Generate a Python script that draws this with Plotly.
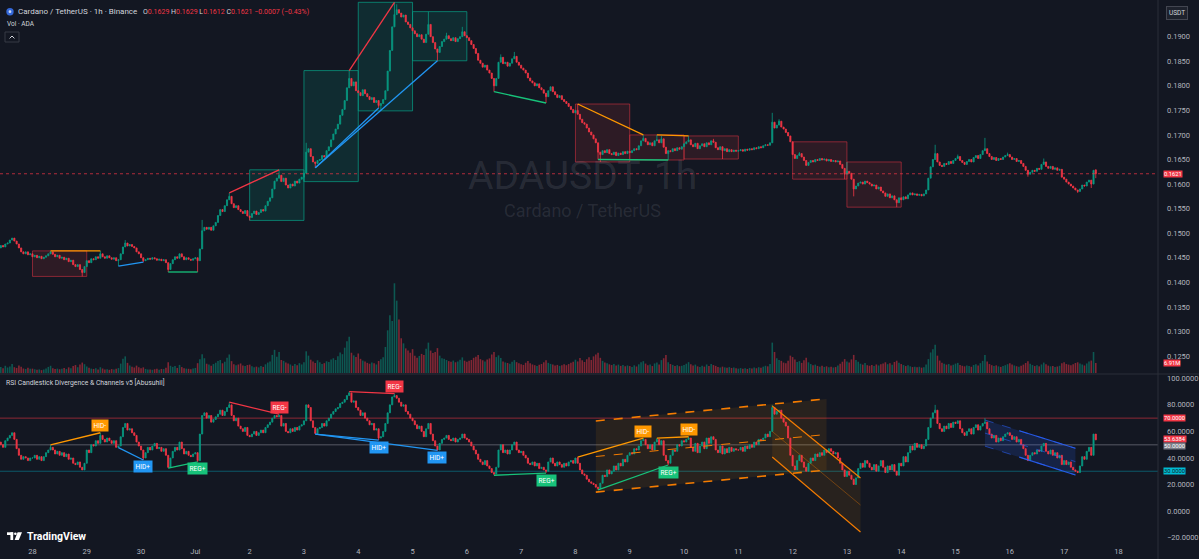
import plotly.graph_objects as go

# ---------------- data ----------------
day_names = ["Jun 27", "Jun 28", "Jun 29", "Jun 30", "Jul 1", "Jul 2", "Jul 3", "Jul 4", "Jul 5", "Jul 6",
             "Jul 7", "Jul 8", "Jul 9", "Jul 10", "Jul 11", "Jul 12", "Jul 13", "Jul 14", "Jul 15", "Jul 16", "Jul 17"]
tick_labels = ["28", "29", "30", "Jul", "2", "3", "4", "5", "6", "7", "8", "9", "10",
               "11", "12", "13", "14", "15", "16", "17", "18"]

# hourly closes (ADAUSDT), first candle Jun 27 10:00
close_jun27 = [0.1475, 0.1472, 0.1478, 0.1480, 0.1486, 0.1490, 0.1484, 0.1478, 0.1470, 0.1462, 0.1458, 0.1462, 0.1456, 0.1458]
close_jun28 = [0.1452, 0.1455, 0.1450, 0.1453, 0.1448, 0.1451, 0.1454, 0.1458, 0.1462, 0.1457, 0.1452, 0.1455,
               0.1449, 0.1451, 0.1446, 0.1449, 0.1442, 0.1445, 0.1436, 0.1432, 0.1436, 0.1426, 0.1420, 0.1432]
close_jun29 = [0.1444, 0.1440, 0.1448, 0.1446, 0.1452, 0.1449, 0.1458, 0.1452, 0.1449, 0.1454, 0.1450, 0.1447,
               0.1450, 0.1444, 0.1446, 0.1458, 0.1472, 0.1480, 0.1474, 0.1477, 0.1473, 0.1470, 0.1462, 0.1458]
close_jun30 = [0.1450, 0.1444, 0.1446, 0.1449, 0.1447, 0.1450, 0.1448, 0.1445, 0.1447, 0.1444, 0.1446, 0.1440,
               0.1426, 0.1438, 0.1446, 0.1452, 0.1449, 0.1458, 0.1452, 0.1446, 0.1450, 0.1447, 0.1445, 0.1448]
close_jul01 = [0.1450, 0.1444, 0.1468, 0.1505, 0.1512, 0.1508, 0.1512, 0.1506, 0.1515, 0.1522, 0.1536, 0.1548,
               0.1544, 0.1556, 0.1568, 0.1575, 0.1560, 0.1552, 0.1556, 0.1548, 0.1544, 0.1540, 0.1546, 0.1535]
close_jul02 = [0.1532, 0.1540, 0.1545, 0.1538, 0.1542, 0.1548, 0.1545, 0.1556, 0.1565, 0.1572, 0.1590, 0.1606,
               0.1612, 0.1618, 0.1605, 0.1612, 0.1598, 0.1592, 0.1600, 0.1596, 0.1606, 0.1602, 0.1610, 0.1614]
close_jul03 = [0.1622, 0.1665, 0.1672, 0.1656, 0.1645, 0.1642, 0.1648, 0.1650, 0.1658, 0.1655, 0.1668, 0.1676,
               0.1690, 0.1702, 0.1712, 0.1722, 0.1740, 0.1752, 0.1770, 0.1796, 0.1815, 0.1800, 0.1808, 0.1790]
close_jul04 = [0.1786, 0.1780, 0.1792, 0.1784, 0.1778, 0.1772, 0.1776, 0.1766, 0.1770, 0.1760, 0.1764, 0.1772,
               0.1790, 0.1830, 0.1872, 0.1920, 0.1945, 0.1955, 0.1948, 0.1940, 0.1944, 0.1930, 0.1925, 0.1918]
close_jul05 = [0.1912, 0.1906, 0.1900, 0.1904, 0.1895, 0.1888, 0.1905, 0.1925, 0.1900, 0.1888, 0.1875, 0.1868,
               0.1880, 0.1890, 0.1895, 0.1902, 0.1896, 0.1892, 0.1898, 0.1890, 0.1896, 0.1900, 0.1910, 0.1902]
close_jul06 = [0.1898, 0.1892, 0.1884, 0.1876, 0.1866, 0.1852, 0.1846, 0.1838, 0.1842, 0.1832, 0.1826, 0.1815,
               0.1800, 0.1815, 0.1848, 0.1858, 0.1845, 0.1848, 0.1840, 0.1846, 0.1855, 0.1860, 0.1848, 0.1842]
close_jul07 = [0.1836, 0.1832, 0.1826, 0.1816, 0.1810, 0.1806, 0.1800, 0.1804, 0.1796, 0.1792, 0.1785, 0.1778,
               0.1790, 0.1798, 0.1788, 0.1782, 0.1776, 0.1780, 0.1772, 0.1768, 0.1764, 0.1758, 0.1752, 0.1745]
close_jul08 = [0.1750, 0.1742, 0.1732, 0.1725, 0.1722, 0.1714, 0.1706, 0.1700, 0.1692, 0.1684, 0.1665, 0.1660,
               0.1668, 0.1664, 0.1670, 0.1662, 0.1660, 0.1665, 0.1658, 0.1663, 0.1660, 0.1666, 0.1662, 0.1667]
close_jul09 = [0.1664, 0.1668, 0.1672, 0.1670, 0.1678, 0.1688, 0.1693, 0.1686, 0.1680, 0.1684, 0.1678, 0.1688,
               0.1690, 0.1684, 0.1692, 0.1675, 0.1662, 0.1668, 0.1666, 0.1672, 0.1668, 0.1674, 0.1671, 0.1676]
close_jul10 = [0.1682, 0.1686, 0.1690, 0.1680, 0.1676, 0.1683, 0.1672, 0.1678, 0.1682, 0.1676, 0.1684, 0.1680,
               0.1688, 0.1685, 0.1674, 0.1670, 0.1676, 0.1668, 0.1672, 0.1666, 0.1670, 0.1666, 0.1669, 0.1667]
close_jul11 = [0.1668, 0.1670, 0.1667, 0.1671, 0.1669, 0.1672, 0.1670, 0.1674, 0.1672, 0.1676, 0.1674, 0.1678,
               0.1680, 0.1679, 0.1684, 0.1726, 0.1714, 0.1720, 0.1728, 0.1716, 0.1712, 0.1705, 0.1698, 0.1686]
close_jul12 = [0.1660, 0.1652, 0.1658, 0.1662, 0.1655, 0.1648, 0.1638, 0.1644, 0.1648, 0.1645, 0.1650, 0.1648,
               0.1652, 0.1649, 0.1651, 0.1647, 0.1650, 0.1646, 0.1648, 0.1645, 0.1647, 0.1640, 0.1632, 0.1620]
close_jul13 = [0.1626, 0.1622, 0.1610, 0.1590, 0.1596, 0.1602, 0.1604, 0.1600, 0.1606, 0.1603, 0.1600, 0.1596,
               0.1598, 0.1590, 0.1594, 0.1586, 0.1582, 0.1575, 0.1580, 0.1572, 0.1576, 0.1568, 0.1562, 0.1572]
close_jul14 = [0.1568, 0.1574, 0.1570, 0.1578, 0.1582, 0.1578, 0.1580, 0.1577, 0.1579, 0.1576, 0.1580, 0.1588,
               0.1612, 0.1635, 0.1650, 0.1662, 0.1645, 0.1638, 0.1636, 0.1642, 0.1640, 0.1646, 0.1642, 0.1648]
close_jul15 = [0.1652, 0.1656, 0.1648, 0.1644, 0.1640, 0.1646, 0.1650, 0.1645, 0.1654, 0.1658, 0.1652, 0.1660,
               0.1668, 0.1672, 0.1662, 0.1656, 0.1650, 0.1654, 0.1648, 0.1652, 0.1650, 0.1655, 0.1658, 0.1660]
close_jul16 = [0.1655, 0.1650, 0.1652, 0.1646, 0.1648, 0.1642, 0.1636, 0.1628, 0.1620, 0.1624, 0.1628, 0.1626,
               0.1632, 0.1630, 0.1640, 0.1645, 0.1636, 0.1632, 0.1636, 0.1630, 0.1633, 0.1628, 0.1630, 0.1614]
close_jul17 = [0.1610, 0.1604, 0.1600, 0.1596, 0.1592, 0.1588, 0.1585, 0.1590, 0.1598, 0.1596, 0.1604, 0.1608,
               0.1600, 0.1628, 0.1621]
first_open = 0.1470

# wick extremes (candle index -> price)
price_high_fix = {22: 0.1464, 44: 0.1464, 55: 0.1486, 89: 0.1527, 101: 0.1582, 123: 0.1629, 135: 0.1684,
                  154: 0.1831, 174: 0.1970, 175: 0.1966, 189: 0.1951, 197: 0.1908, 204: 0.1920, 221: 0.1864,
                  227: 0.1869, 255: 0.1763, 284: 0.1700, 290: 0.1700, 292: 0.1698, 304: 0.1698, 315: 0.1692,
                  341: 0.1745, 344: 0.1732, 353: 0.1665, 374: 0.1645, 413: 0.1680, 423: 0.1660, 435: 0.1694,
                  445: 0.1664, 461: 0.1652, 484: 0.1629}
price_low_fix = {36: 0.1412, 52: 0.1433, 63: 0.1441, 74: 0.1421, 87: 0.1421, 110: 0.1526, 134: 0.1605,
                 139: 0.1633, 167: 0.1755, 168: 0.1749, 193: 0.1851, 218: 0.1788, 241: 0.1765, 264: 0.1650,
                 265: 0.1645, 295: 0.1649, 319: 0.1651, 373: 0.1610, 377: 0.1575, 396: 0.1553, 454: 0.1615,
                 476: 0.1582, 482: 0.1592, 484: 0.1612}
price_open_fix = {484: 0.1629}

# hourly volume (millions ADA)
vol_jun27 = [4.1, 3.2, 5.0, 3.8, 4.5, 6.2, 4.0, 3.5, 5.2, 4.4, 3.1, 2.8, 3.6, 2.9]
vol_jun28 = [3.0, 2.6, 2.2, 2.5, 2.0, 2.4, 3.1, 4.2, 5.0, 3.3, 2.8, 3.0, 2.6, 2.9, 3.4, 2.7, 3.9, 3.2, 4.8, 5.5, 4.0, 5.8, 7.2, 6.1]
vol_jun29 = [4.5, 3.6, 3.0, 2.8, 3.2, 2.5, 4.0, 3.1, 2.4, 2.6, 2.2, 2.7, 2.5, 3.0, 3.4, 6.5, 9.8, 11.5, 7.0, 5.2, 4.4, 3.8, 5.1, 4.0]
vol_jun30 = [3.3, 3.9, 2.8, 2.5, 2.4, 2.2, 2.6, 2.9, 2.3, 2.8, 2.7, 3.6, 7.5, 5.0, 4.2, 4.8, 3.5, 5.6, 4.1, 3.2, 3.0, 2.9, 2.6, 3.1]
vol_jul01 = [3.5, 6.8, 9.5, 13.0, 10.2, 6.4, 5.8, 5.0, 6.2, 7.1, 8.3, 9.0, 6.7, 7.8, 10.5, 12.8, 8.2, 6.0, 5.4, 5.9, 6.6, 5.1, 4.8, 5.5]
vol_jul02 = [5.8, 4.6, 4.0, 4.4, 3.9, 4.8, 4.2, 6.0, 7.2, 8.0, 12.5, 16.0, 11.2, 14.5, 9.0, 8.4, 7.2, 6.5, 5.9, 5.0, 6.3, 5.4, 6.8, 5.9]
vol_jul03 = [7.5, 15.0, 12.0, 9.2, 8.0, 6.9, 8.8, 7.4, 6.2, 6.8, 8.1, 7.6, 9.4, 10.2, 9.0, 11.5, 14.2, 13.0, 17.5, 22.0, 25.0, 14.0, 12.2, 11.0]
vol_jul04 = [13.5, 9.8, 8.6, 7.9, 7.0, 6.4, 7.2, 6.8, 5.9, 8.3, 9.5, 10.8, 18.0, 29.5, 40.0, 36.0, 62.0, 50.0, 37.0, 24.0, 20.5, 17.0, 15.5, 14.0]
vol_jul05 = [16.5, 12.0, 10.5, 11.8, 13.2, 12.5, 16.8, 21.0, 15.5, 13.8, 14.6, 17.2, 12.0, 10.2, 9.8, 9.0, 8.2, 7.8, 8.6, 7.4, 8.0, 9.2, 10.8, 8.5]
vol_jul06 = [7.8, 8.4, 9.0, 10.5, 11.2, 12.5, 9.6, 8.8, 7.9, 9.3, 10.1, 12.8, 14.5, 11.0, 12.2, 10.4, 8.0, 7.3, 6.9, 6.4, 7.8, 8.9, 7.5, 6.8]
vol_jul07 = [6.0, 5.6, 7.1, 8.3, 6.7, 5.9, 5.4, 4.8, 5.7, 6.2, 7.4, 8.8, 7.0, 6.3, 5.8, 5.1, 5.6, 4.9, 5.3, 6.0, 5.4, 6.2, 7.0, 7.8]
vol_jul08 = [9.2, 8.0, 10.4, 8.8, 7.6, 9.5, 10.8, 9.0, 11.5, 12.8, 14.0, 10.5, 8.4, 7.2, 6.8, 6.0, 5.5, 6.3, 5.1, 5.8, 4.9, 5.5, 4.6, 5.2]
vol_jul09 = [4.8, 4.2, 5.3, 4.5, 6.0, 7.4, 8.2, 6.5, 5.4, 5.9, 4.8, 6.6, 7.2, 5.8, 8.9, 10.2, 12.4, 7.5, 6.2, 5.6, 4.9, 5.4, 4.7, 5.0]
vol_jul10 = [5.6, 6.4, 7.5, 6.0, 5.2, 5.8, 4.6, 4.2, 5.0, 4.4, 5.9, 4.8, 6.3, 5.5, 4.9, 4.2, 3.8, 4.4, 3.9, 3.6, 4.1, 3.5, 3.8, 3.3]
vol_jul11 = [3.0, 3.4, 2.9, 3.2, 2.8, 3.5, 3.1, 3.8, 3.3, 4.0, 3.6, 4.4, 5.0, 4.6, 6.2, 21.0, 14.5, 10.2, 9.0, 8.4, 7.2, 6.8, 8.5, 12.0]
vol_jul12 = [11.0, 9.4, 7.6, 8.2, 7.0, 8.8, 10.5, 7.4, 6.2, 5.4, 5.8, 4.9, 4.4, 5.0, 4.2, 4.6, 3.9, 4.3, 3.8, 4.1, 5.2, 6.4, 7.8, 9.6]
vol_jul13 = [8.0, 7.2, 9.4, 12.5, 9.0, 7.8, 6.4, 5.8, 6.9, 5.4, 5.0, 5.6, 4.8, 5.9, 5.2, 6.0, 6.6, 7.4, 6.1, 6.8, 5.7, 7.6, 8.5, 7.0]
vol_jul14 = [6.2, 5.5, 4.8, 5.3, 4.6, 4.1, 4.4, 3.9, 4.3, 3.7, 4.0, 5.8, 9.6, 14.2, 16.5, 19.5, 12.0, 8.6, 7.0, 6.4, 5.8, 6.2, 5.2, 5.7]
vol_jul15 = [6.5, 7.0, 5.6, 5.0, 4.6, 5.2, 4.8, 4.3, 5.5, 6.0, 5.1, 6.8, 8.4, 12.5, 8.0, 6.2, 5.4, 4.9, 5.3, 4.6, 4.2, 4.8, 5.4, 6.1]
vol_jul16 = [6.8, 5.9, 5.2, 4.7, 4.4, 5.0, 5.8, 6.9, 8.2, 6.4, 5.5, 4.8, 5.3, 4.6, 5.9, 7.2, 6.0, 5.1, 4.6, 4.9, 4.2, 4.5, 5.0, 6.8]
vol_jul17 = [7.5, 6.2, 5.8, 5.4, 6.1, 6.9, 7.4, 6.5, 5.9, 5.2, 6.6, 7.9, 8.6, 14.5, 6.91]

# RSI (candlestick RSI closes)
rsi_jun27 = [50, 48, 53, 55, 57, 59, 54, 47, 42, 39, 41, 40, 38, 40]
rsi_jun28 = [40, 42, 39, 41, 38, 41, 44, 46, 48, 46, 43, 45, 42, 44, 41, 43, 39, 40, 36, 35, 37, 33, 31, 36]
rsi_jun29 = [46, 44, 50, 49, 53, 51, 57, 54, 52, 55, 53, 51, 53, 48, 49, 56, 63, 66, 61, 62, 59, 57, 52, 49]
rsi_jun30 = [46, 40, 44, 48, 46, 49, 51, 47, 48, 45, 47, 42, 33, 40, 45, 48, 46, 52, 47, 43, 45, 42, 41, 43]
rsi_jul01 = [44, 38, 58, 72, 74, 70, 72, 67, 69, 71, 73, 76, 72, 75, 78, 80, 72, 68, 70, 64, 62, 60, 63, 57]
rsi_jul02 = [56, 58, 60, 57, 59, 61, 59, 63, 65, 67, 70, 72, 71, 72, 64, 66, 60, 59, 62, 60, 63, 61, 64, 65]
rsi_jul03 = [68, 80, 78, 68, 63, 58.5, 62, 63, 66, 64, 68, 70, 73, 75, 77, 78, 81, 82, 84, 87, 89, 82, 83, 78]
rsi_jul04 = [76, 72, 74, 70, 68, 65, 66, 61, 62, 55, 56, 60, 66, 74, 80, 86, 87, 85, 82, 79, 80, 75, 73, 70]
rsi_jul05 = [68, 65, 62, 64, 60, 56, 62, 66, 58, 53, 49, 46, 51, 54, 55, 57, 54, 53, 55, 52, 54, 55, 58, 55]
rsi_jul06 = [54, 52, 49, 46, 43, 39, 37, 35, 38, 34, 32, 29, 28, 33, 46, 50, 44, 46, 43, 46, 50, 52, 46, 44]
rsi_jul07 = [45, 42, 40, 36, 35, 37, 34, 36, 32, 33, 31, 30, 37, 40, 36, 34, 37, 35, 33, 36, 34, 37, 38, 36]
rsi_jul08 = [40, 36, 31, 28, 27, 24, 22, 21, 20, 18, 17, 21, 27, 26, 31, 28, 30, 34, 31, 36, 34, 39, 37, 42]
rsi_jul09 = [44, 43, 47, 46, 49, 53, 54, 50, 47, 50, 46, 52, 54, 50, 53, 42, 38, 36, 42, 46, 45, 50, 49, 53]
rsi_jul10 = [52, 54, 55, 48, 45, 51, 44, 49, 52, 47, 55, 51, 56, 54, 46, 44, 49, 43, 47, 44, 48, 45, 47, 46]
rsi_jul11 = [46, 48, 45, 49, 47, 50, 48, 52, 50, 54, 53, 55, 58, 56, 60, 78, 73, 75, 76, 70, 67, 64, 55, 42]
rsi_jul12 = [34, 31, 38, 42, 37, 33, 30, 36, 40, 38, 43, 41, 44, 42, 46, 44, 47, 45, 43, 44, 40, 36, 31, 26]
rsi_jul13 = [30, 27, 24, 20, 25, 32, 36, 33, 38, 36, 33, 31, 35, 30, 34, 38, 33, 29, 34, 31, 35, 30, 27, 36]
rsi_jul14 = [34, 41, 37, 44, 49, 46, 51, 48, 50, 47, 49, 54, 63, 70, 74, 76, 66, 62, 60, 64, 62, 66, 63, 67]
rsi_jul15 = [66, 68, 62, 59, 57, 60, 62, 58, 63, 65, 61, 64, 66, 67, 62, 58, 55, 57, 52, 55, 53, 56, 58, 59]
rsi_jul16 = [57, 54, 56, 52, 54, 50, 47, 42, 38, 42, 44, 43, 46, 45, 49, 51, 45, 43, 46, 42, 44, 40, 42, 35]
rsi_jul17 = [38, 35, 37, 33, 31, 30, 29, 34, 41, 39, 45, 48, 42, 58, 53.6384]
rsi_first_open = 52
rsi_high_fix = {22: 49.8, 44: 59, 101: 82, 123: 73, 154: 90, 174: 88.5, 255: 40.7, 284: 55, 290: 55,
                304: 56, 341: 80, 413: 80, 435: 70}
rsi_low_fix = {52: 47.8, 63: 38.5, 74: 32.4, 87: 37, 139: 58, 167: 53.5, 193: 45.7, 218: 27, 241: 28.6,
               264: 16, 295: 34.7}

# daily range boxes
box_days = ["Jun 28", "Jul 2", "Jul 3", "Jul 4", "Jul 5", "Jul 8", "Jul 9", "Jul 10", "Jul 12", "Jul 13"]
box_kind = ["bear", "bull", "bull", "bull", "bull", "bear", "bear", "bear", "bear", "bear"]

# divergences: (start idx, end idx, pivot type, label)
div_start = [22, 52, 74, 101, 139, 139, 154, 218, 255, 264, 290]
div_end = [44, 63, 87, 123, 167, 193, 174, 241, 284, 295, 304]
div_pivot = ["high", "low", "low", "high", "low", "low", "high", "low", "high", "low", "high"]
div_label = ["HID-", "HID+", "REG+", "REG-", "HID+", "HID+", "REG-", "REG+", "HID-", "REG+", "HID-"]

# RSI channels: start/end idx, upper & lower line values at start/end
ch_i0 = [263, 341, 435]
ch_i1 = [365, 380, 475]
ch_top = [(67.9, 84.5), (79.2, 24.9), (68.6, 47.3)]
ch_bot = [(14.3, 30.9), (40.7, -15.8), (48.9, 27.2)]
ch_kind = ["asc", "desc", "blue"]

rsi_levels = [70, 50, 30]
price_ticks = [0.125, 0.130, 0.135, 0.140, 0.145, 0.150, 0.155, 0.160, 0.165, 0.170, 0.175, 0.180, 0.185, 0.190]
rsi_ticks = [100, 80, 60, 40, 20, 0, -20]

# ---------------- build series ----------------
closes_by_day = [close_jun27, close_jun28, close_jun29, close_jun30, close_jul01, close_jul02, close_jul03,
                 close_jul04, close_jul05, close_jul06, close_jul07, close_jul08, close_jul09, close_jul10,
                 close_jul11, close_jul12, close_jul13, close_jul14, close_jul15, close_jul16, close_jul17]
vol_by_day = [vol_jun27, vol_jun28, vol_jun29, vol_jun30, vol_jul01, vol_jul02, vol_jul03, vol_jul04, vol_jul05,
              vol_jul06, vol_jul07, vol_jul08, vol_jul09, vol_jul10, vol_jul11, vol_jul12, vol_jul13, vol_jul14,
              vol_jul15, vol_jul16, vol_jul17]
rsi_by_day = [rsi_jun27, rsi_jun28, rsi_jun29, rsi_jun30, rsi_jul01, rsi_jul02, rsi_jul03, rsi_jul04, rsi_jul05,
              rsi_jul06, rsi_jul07, rsi_jul08, rsi_jul09, rsi_jul10, rsi_jul11, rsi_jul12, rsi_jul13, rsi_jul14,
              rsi_jul15, rsi_jul16, rsi_jul17]
for a, b, c in zip(closes_by_day, vol_by_day, rsi_by_day):
    assert len(a) == len(b) == len(c), (len(a), len(b), len(c))

day_start = {}
closes, volume, rsi = [], [], []
for name, c, v, r in zip(day_names, closes_by_day, vol_by_day, rsi_by_day):
    day_start[name] = len(closes)
    closes += c
    volume += v
    rsi += r
N = len(closes)
idx = list(range(N))

opens = [first_open] + closes[:-1]
for k, v in price_open_fix.items():
    opens[k] = v
highs = [max(o, c) for o, c in zip(opens, closes)]
lows = [min(o, c) for o, c in zip(opens, closes)]
for k, v in price_high_fix.items():
    highs[k] = v
for k, v in price_low_fix.items():
    lows[k] = v

r_open = [rsi_first_open] + rsi[:-1]
r_high = [max(o, c) for o, c in zip(r_open, rsi)]
r_low = [min(o, c) for o, c in zip(r_open, rsi)]
for k, v in rsi_high_fix.items():
    r_high[k] = v
for k, v in rsi_low_fix.items():
    r_low[k] = v

# ---------------- style ----------------
W, H = 1199, 559
ML, MR, MT, MB = 0, 41, 0, 17
PW, PH = W - ML - MR, H - MT - MB
BG = "#131722"
UP, DN = "#089981", "#f23645"
TXT, AX = "#d1d4dc", "#b2b5be"
FONT = "Roboto"
ORANGE, BLUE, GREEN, RED = "#ff9800", "#2196f3", "#17c27a", "#f23645"
label_color = {"HID-": ORANGE, "HID+": BLUE, "REG+": GREEN, "REG-": RED}


def px(x):
    return x / PW


def py(y):
    return 1 - y / PH


price_dom = [py(373), 1]
rsi_dom = [0, py(375)]

fig = go.Figure()
vol_colors = ["rgba(8,153,129,0.5)" if c >= o else "rgba(242,54,69,0.5)" for o, c in zip(opens, closes)]
fig.add_trace(go.Bar(x=idx, y=volume, marker=dict(color=vol_colors, line=dict(width=0)),
                     xaxis="x", yaxis="y2", hoverinfo="skip", showlegend=False))
fig.add_trace(go.Candlestick(x=idx, open=opens, high=highs, low=lows, close=closes,
                             increasing=dict(line=dict(color=UP, width=0.8), fillcolor=UP),
                             decreasing=dict(line=dict(color=DN, width=0.8), fillcolor=DN),
                             whiskerwidth=0, xaxis="x", yaxis="y", hoverinfo="skip", showlegend=False))
fig.add_trace(go.Candlestick(x=idx, open=r_open, high=r_high, low=r_low, close=rsi,
                             increasing=dict(line=dict(color=UP, width=0.8), fillcolor=UP),
                             decreasing=dict(line=dict(color=DN, width=0.8), fillcolor=DN),
                             whiskerwidth=0, xaxis="x", yaxis="y3", hoverinfo="skip", showlegend=False))

shapes = []
annotations = []

# daily boxes
for name, kind in zip(box_days, box_kind):
    s = day_start[name]
    hi = max(highs[s:s + 24])
    lo = min(lows[s:s + 24])
    if kind == "bull":
        fc, lc = "rgba(8,153,129,0.16)", "rgba(8,153,129,0.75)"
    else:
        fc, lc = "rgba(242,54,69,0.12)", "rgba(242,54,69,0.5)"
    shapes.append(dict(type="rect", xref="x", yref="y", x0=s, x1=s + 24, y0=lo, y1=hi,
                       fillcolor=fc, line=dict(color=lc, width=1), layer="below"))

# divergence lines (price & RSI) + labels
for i0, i1, piv, lab in zip(div_start, div_end, div_pivot, div_label):
    col = label_color[lab]
    ph = highs if piv == "high" else lows
    rh = r_high if piv == "high" else r_low
    shapes.append(dict(type="line", xref="x", yref="y", x0=i0, x1=i1, y0=ph[i0], y1=ph[i1],
                       line=dict(color=col, width=1.3)))
    shapes.append(dict(type="line", xref="x", yref="y3", x0=i0, x1=i1, y0=rh[i0], y1=rh[i1],
                       line=dict(color=col, width=1.3)))
    annotations.append(dict(x=i1, y=rh[i1], xref="x", yref="y3", text=lab, showarrow=False,
                            font=dict(family=FONT, size=6.5, color="#ffffff"), bgcolor=col, borderpad=1.5,
                            yanchor="middle", yshift=7 if piv == "high" else -7))

# RSI channels
for i0, i1, top, bot, kind in zip(ch_i0, ch_i1, ch_top, ch_bot, ch_kind):
    mid = ((top[0] + bot[0]) / 2, (top[1] + bot[1]) / 2)
    if kind == "blue":
        fill, lc = "rgba(41,98,255,0.16)", "#2962ff"
    else:
        fill, lc = "rgba(255,152,0,0.09)", "#f57c00"
    shapes.append(dict(type="path", xref="x", yref="y3", layer="below",
                       path=f"M {i0},{top[0]} L {i1},{top[1]} L {i1},{bot[1]} L {i0},{bot[0]} Z",
                       fillcolor=fill, line=dict(width=0)))
    if kind == "asc":
        for ln, wd in ((top, 1.6), (bot, 1.6), (mid, 1)):
            shapes.append(dict(type="line", xref="x", yref="y3", x0=i0, x1=i1, y0=ln[0], y1=ln[1],
                               line=dict(color=lc, width=wd, dash="dash")))
    elif kind == "desc":
        for ln in (top, bot):
            shapes.append(dict(type="line", xref="x", yref="y3", x0=i0, x1=i1, y0=ln[0], y1=ln[1],
                               line=dict(color=lc, width=1.2)))
        shapes.append(dict(type="line", xref="x", yref="y3", x0=i0, x1=i1, y0=mid[0], y1=mid[1],
                           line=dict(color="rgba(245,124,0,0.45)", width=0.8)))
    else:
        for ln in (top, bot, mid):
            shapes.append(dict(type="line", xref="x", yref="y3", x0=i0, x1=i1, y0=ln[0], y1=ln[1],
                               line=dict(color="rgba(41,98,255,0.55)", width=1, dash="dash")))
        j0 = i0 + (i1 - i0) * 0.38
        for ln in (top, bot):
            f0 = ln[0] + (ln[1] - ln[0]) * 0.38
            shapes.append(dict(type="line", xref="x", yref="y3", x0=j0, x1=i1, y0=f0, y1=ln[1],
                               line=dict(color="rgba(41,98,255,0.85)", width=1.2)))

# RSI level lines
lvl_col = {70: "rgba(242,54,69,0.55)", 50: "rgba(120,123,134,0.45)", 30: "rgba(0,188,212,0.4)"}
for lv in rsi_levels:
    shapes.append(dict(type="line", xref="paper", yref="y3", x0=0, x1=1, y0=lv, y1=lv,
                       line=dict(color=lvl_col[lv], width=1.5 if lv == 50 else 1), layer="below"))

# last price line
shapes.append(dict(type="line", xref="paper", yref="y", x0=0, x1=1, y0=closes[-1], y1=closes[-1],
                   line=dict(color="rgba(242,54,69,0.7)", width=1, dash="dot")))
# pane separator and price-scale border
shapes.append(dict(type="line", xref="paper", yref="paper", x0=0, x1=W / PW, y0=py(374), y1=py(374),
                   line=dict(color="#2a2e39", width=1)))
shapes.append(dict(type="line", xref="paper", yref="paper", x0=1, x1=1, y0=py(H), y1=1,
                   line=dict(color="#2a2e39", width=1)))

# header icon + collapse button + TV logo
shapes.append(dict(type="circle", xref="paper", yref="paper", x0=px(6.3), x1=px(13.7), y0=py(15.4), y1=py(8),
                   fillcolor="#3468d8", line=dict(width=0)))
shapes.append(dict(type="circle", xref="paper", yref="paper", x0=px(8.6), x1=px(11.4), y0=py(13.1), y1=py(10.3),
                   fillcolor="rgba(255,255,255,0.75)", line=dict(width=0)))
shapes.append(dict(type="rect", xref="paper", yref="paper", x0=px(5), x1=px(19), y0=py(42), y1=py(32),
                   fillcolor=BG, line=dict(color="#363a45", width=1)))
shapes.append(dict(type="path", xref="paper", yref="paper",
                   path=f"M {px(9.6)},{py(38.4)} L {px(12)},{py(36)} L {px(14.4)},{py(38.4)}",
                   line=dict(color=TXT, width=1)))
shapes.append(dict(type="rect", xref="paper", yref="paper", x0=px(7), x1=px(13.2), y0=py(535), y1=py(532.3),
                   fillcolor="#ffffff", line=dict(width=0)))
shapes.append(dict(type="rect", xref="paper", yref="paper", x0=px(10.4), x1=px(13.2), y0=py(540), y1=py(532.3),
                   fillcolor="#ffffff", line=dict(width=0)))
shapes.append(dict(type="circle", xref="paper", yref="paper", x0=px(14.1), x1=px(16.7), y0=py(535), y1=py(532.4),
                   fillcolor="#ffffff", line=dict(width=0)))
shapes.append(dict(type="path", xref="paper", yref="paper",
                   path=f"M {px(17.6)},{py(532.3)} L {px(22)},{py(532.3)} L {px(18.8)},{py(540)} L {px(14.6)},{py(540)} Z",
                   fillcolor="#ffffff", line=dict(width=0)))

# texts
annotations += [
    dict(x=px(16), y=py(11.7), xref="paper", yref="paper", xanchor="left", yanchor="middle", showarrow=False,
         text="Cardano / TetherUS · 1h · Binance", font=dict(family=FONT, size=8, color=TXT)),
    dict(x=px(141), y=py(11.7), xref="paper", yref="paper", xanchor="left", yanchor="middle", showarrow=False,
         text=("O<span style='color:#f23645'>0.1629</span> H<span style='color:#f23645'>0.1629</span> "
               "L<span style='color:#f23645'>0.1612</span> C<span style='color:#f23645'>0.1621</span> "
               "<span style='color:#f23645'>−0.0007 (−0.43%)</span>"),
         font=dict(family=FONT, size=7, color=TXT)),
    dict(x=px(5), y=py(24), xref="paper", yref="paper", xanchor="left", yanchor="middle", showarrow=False,
         text="Vol · ADA", font=dict(family=FONT, size=6.5, color=TXT)),
    dict(x=px(4), y=py(382.7), xref="paper", yref="paper", xanchor="left", yanchor="middle", showarrow=False,
         text="RSI Candlestick Divergence & Channels v5 [Abusuhil]", font=dict(family=FONT, size=6.8, color=TXT)),
    dict(x=px(582), y=py(176), xref="paper", yref="paper", xanchor="center", yanchor="middle", showarrow=False,
         text="ADAUSDT, 1h", font=dict(family=FONT, size=39, color="rgba(178,181,190,0.14)")),
    dict(x=px(582), y=py(210), xref="paper", yref="paper", xanchor="center", yanchor="middle", showarrow=False,
         text="Cardano / TetherUS", font=dict(family=FONT, size=18, color="rgba(178,181,190,0.14)")),
    dict(x=px(25), y=py(536.3), xref="paper", yref="paper", xanchor="left", yanchor="middle", showarrow=False,
         text="<b>TradingView</b>", font=dict(family=FONT, size=10.5, color="#ffffff")),
    dict(x=1, y=py(12.7), xref="paper", yref="paper", xanchor="left", yanchor="middle", xshift=8,
         showarrow=False, text="USDT", font=dict(family=FONT, size=6.5, color=TXT),
         bgcolor="#1e222d", bordercolor="#434651", borderwidth=1, borderpad=2),
]


def tag(y, yref, text, bg, fg="#ffffff", dy=0):
    return dict(x=1, y=y, xref="paper", yref=yref, xanchor="left", yanchor="middle", xshift=5, yshift=dy,
                showarrow=False, text=text, font=dict(family=FONT, size=5.8, color=fg), bgcolor=bg, borderpad=0)


annotations += [
    tag(closes[-1], "y", f"{closes[-1]:.4f}", DN),
    tag(volume[-1], "y2", f"{volume[-1]:.2f}M", DN),
    tag(70, "y3", "70.0000", DN),
    tag(rsi[-1], "y3", f"{rsi[-1]:.4f}", DN, dy=1),
    tag(50, "y3", "50.0000", "#787b86", dy=-1),
    tag(30, "y3", "30.0000", "#00bcd4", "#131722"),
]

tickvals = [day_start["Jun 28"] + 24 * k for k in range(len(tick_labels))]
axis_font = dict(family=FONT, size=7.5, color=AX)

fig.update_layout(
    width=W, height=H, margin=dict(l=ML, r=MR, t=MT, b=MB),
    paper_bgcolor=BG, plot_bgcolor=BG, bargap=0.3, showlegend=False,
    font=dict(family=FONT, color=AX, size=7.5),
    xaxis=dict(domain=[0, 1], anchor="y3", range=[-0.35, 511.5], tickvals=tickvals, ticktext=tick_labels,
               showgrid=False, zeroline=False, showline=False, ticks="", tickfont=axis_font,
               rangeslider=dict(visible=False), ticklabelstandoff=3),
    yaxis=dict(domain=price_dom, anchor="x", side="right", range=[0.12154, 0.19747], tickvals=price_ticks,
               tickformat=".4f", showgrid=False, zeroline=False, showline=False, ticks="",
               tickfont=axis_font, ticklabelstandoff=8),
    yaxis2=dict(anchor="x", overlaying="y", range=[0, 257.8], visible=False),
    yaxis3=dict(domain=rsi_dom, anchor="x", side="right", range=[-23.3, 102.5], tickvals=rsi_ticks,
                ticktext=[f"{v:.4f}".replace("-", "−") for v in rsi_ticks], showgrid=False, zeroline=False,
                showline=False, ticks="", tickfont=axis_font, ticklabelstandoff=8),
    shapes=shapes, annotations=annotations,
)

fig.write_html("out.html")
